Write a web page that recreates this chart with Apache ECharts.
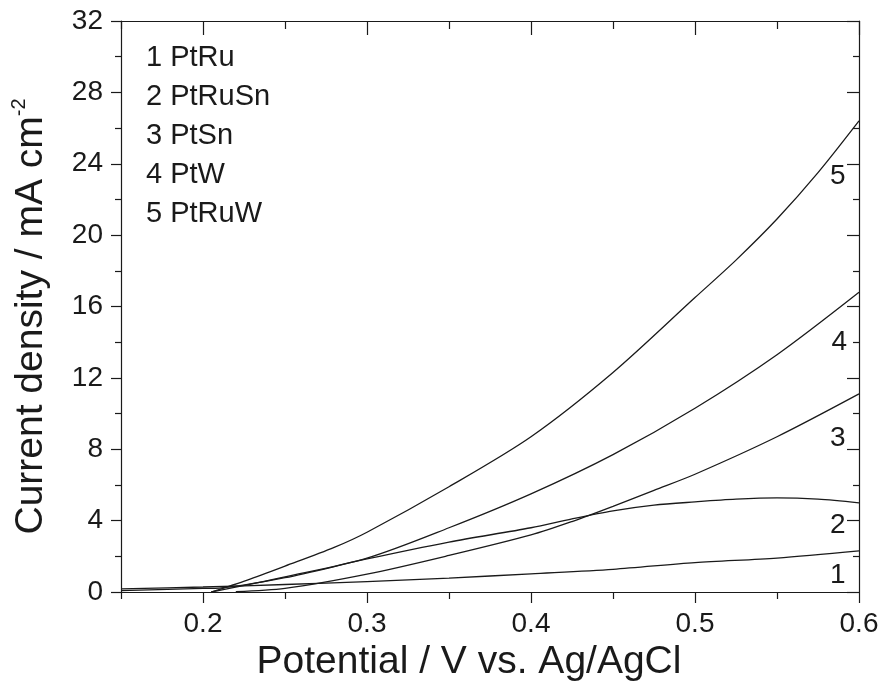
<!DOCTYPE html>
<html>
<head>
<meta charset="utf-8">
<script src="https://cdn.jsdelivr.net/npm/echarts@6/dist/echarts.min.js"></script>
<style>
  html, body { margin: 0; padding: 0; background: #fff; }
  #chart { width: 882px; height: 682px; }
</style>
</head>
<body>
<div id="chart"></div>
<script>
// 电位-电流密度曲线
var names = ['PtRu', 'PtRuSn', 'PtSn', 'PtW', 'PtRuW'];

var x_ptru = [0.15, 0.2, 0.25, 0.3, 0.35, 0.4, 0.45, 0.5, 0.55, 0.6];
var y_ptru = [0.18, 0.28, 0.42, 0.58, 0.78, 1.02, 1.27, 1.65, 1.9, 2.3];

var x_ptrusn = [0.15, 0.2, 0.21, 0.25, 0.3, 0.35, 0.4, 0.425, 0.45, 0.475, 0.5, 0.525, 0.55, 0.575, 0.6];
var y_ptrusn = [0.08, 0.2, 0.22, 0.8, 1.85, 2.8, 3.6, 4.1, 4.55, 4.87, 5.05, 5.2, 5.27, 5.2, 5.0];

var x_ptsn = [0.22, 0.25, 0.3, 0.35, 0.4, 0.425, 0.45, 0.475, 0.5, 0.55, 0.6];
var y_ptsn = [0.02, 0.2, 1.0, 2.05, 3.2, 3.95, 4.8, 5.7, 6.6, 8.7, 11.1];

var x_ptw = [0.205, 0.25, 0.3, 0.35, 0.4, 0.45, 0.5, 0.55, 0.6];
var y_ptw = [0.0, 0.85, 1.9, 3.6, 5.5, 7.7, 10.3, 13.3, 16.8];

var x_ptruw = [0.205, 0.227, 0.25, 0.28, 0.3, 0.35, 0.4, 0.45, 0.5, 0.525, 0.55, 0.575, 0.6];
var y_ptruw = [0.0, 0.67, 1.45, 2.5, 3.35, 5.9, 8.7, 12.3, 16.5, 18.6, 20.9, 23.5, 26.4];

var xMajor = [0.2, 0.3, 0.4, 0.5, 0.6];
var xMinor = [0.15, 0.25, 0.35, 0.45, 0.55];

var xs = [x_ptru, x_ptrusn, x_ptsn, x_ptw, x_ptruw];
var ys = [y_ptru, y_ptrusn, y_ptsn, y_ptw, y_ptruw];

// 曲线编号标注位置 (数据坐标)
var tagAt = [[0.587, 0.95], [0.587, 3.75], [0.587, 8.6], [0.588, 14.0], [0.587, 23.3]];

var FONT = 'Liberation Sans, Arial, sans-serif';
var INK = '#1a1a1a';

var myChart = echarts.init(document.getElementById('chart'), null, { renderer: 'canvas' });

function pairs(a, b) {
    var out = [];
    for (var i = 0; i < a.length; i++) {
        out.push([a[i], b[i]]);
    }
    return out;
}

var series = [];
for (var k = 0; k < names.length; k++) {
    series.push({
        name: names[k],
        type: 'line',
        xAxisIndex: 0,
        yAxisIndex: 0,
        smooth: 0.3,
        showSymbol: false,
        symbol: 'none',
        lineStyle: { color: INK, width: 1.3 },
        data: pairs(xs[k], ys[k]),
        markPoint: {
            symbol: 'circle',
            symbolSize: 0,
            silent: true,
            label: {
                show: true,
                position: 'inside',
                formatter: String(k + 1),
                color: INK,
                fontSize: 28,
                fontFamily: FONT
            },
            data: [{ coord: tagAt[k] }]
        }
    });
}

var axisLineStyle = { show: true, lineStyle: { color: INK, width: 1.2 } };

var option = {
    animation: false,
    backgroundColor: '#fff',
    grid: { left: 121, right: 23, top: 21, bottom: 90, outerBoundsMode: 'none' },
    xAxis: [
        {
            type: 'value',
            position: 'bottom',
            min: 0.15,
            max: 0.6,
            axisLine: axisLineStyle,
            axisTick: { show: true, inside: false, length: 11, customValues: xMajor, lineStyle: { color: INK, width: 1.2 } },
            axisLabel: {
                show: true,
                customValues: xMajor,
                formatter: function (v) { return v.toFixed(1); },
                fontSize: 28,
                color: INK,
                fontFamily: FONT,
                margin: 18
            },
            splitLine: { show: false },
            name: 'Potential / V vs. Ag/AgCl',
            nameLocation: 'middle',
            nameGap: 50,
            nameTextStyle: { fontSize: 39, color: INK, fontFamily: FONT, padding: [0, 42, 0, 0] }
        },
        {
            type: 'value',
            position: 'bottom',
            min: 0.15,
            max: 0.6,
            axisLine: { show: false },
            axisTick: { show: true, inside: false, length: 7, customValues: xMinor, lineStyle: { color: INK, width: 1.2 } },
            axisLabel: { show: false },
            splitLine: { show: false }
        },
        {
            type: 'value',
            position: 'top',
            min: 0.15,
            max: 0.6,
            axisLine: axisLineStyle,
            axisTick: { show: true, inside: true, length: 14, customValues: xMajor, lineStyle: { color: INK, width: 1.2 } },
            axisLabel: { show: false },
            splitLine: { show: false }
        },
        {
            type: 'value',
            position: 'top',
            min: 0.15,
            max: 0.6,
            axisLine: { show: false },
            axisTick: { show: true, inside: true, length: 8, customValues: xMinor, lineStyle: { color: INK, width: 1.2 } },
            axisLabel: { show: false },
            splitLine: { show: false }
        }
    ],
    yAxis: [
        {
            type: 'value',
            position: 'left',
            min: 0,
            max: 32,
            interval: 4,
            axisLine: axisLineStyle,
            axisTick: { show: true, inside: false, length: 10, lineStyle: { color: INK, width: 1.2 } },
            minorTick: { show: true, splitNumber: 2, length: 6, lineStyle: { color: INK, width: 1.2 } },
            axisLabel: { fontSize: 28, color: INK, fontFamily: FONT, margin: 18 },
            splitLine: { show: false },
            minorSplitLine: { show: false },
            name: '{a|Current density / mA cm}{b|-2}',
            nameLocation: 'middle',
            nameGap: 68,
            nameTextStyle: {
                color: INK,
                fontFamily: FONT,
                rich: {
                    a: { fontSize: 39, fontFamily: FONT, color: INK, lineHeight: 44 },
                    b: { fontSize: 20, fontFamily: FONT, color: INK, verticalAlign: 'top', lineHeight: 44, padding: [0, 20, 18, 0] }
                }
            }
        },
        {
            type: 'value',
            position: 'right',
            min: 0,
            max: 32,
            interval: 4,
            axisLine: axisLineStyle,
            axisTick: { show: true, inside: true, length: 12, lineStyle: { color: INK, width: 1.2 } },
            minorTick: { show: true, splitNumber: 2, length: 6, lineStyle: { color: INK, width: 1.2 } },
            axisLabel: { show: false },
            splitLine: { show: false },
            minorSplitLine: { show: false }
        }
    ],
    graphic: [
        {
            type: 'text',
            left: 146,
            top: 38,
            silent: true,
            style: {
                text: names.map(function (n, i) { return (i + 1) + ' ' + n; }).join('\n'),
                font: '29px ' + FONT,
                fill: INK,
                lineHeight: 39
            }
        }
    ],
    series: series
};

myChart.setOption(option);
</script>
</body>
</html>
